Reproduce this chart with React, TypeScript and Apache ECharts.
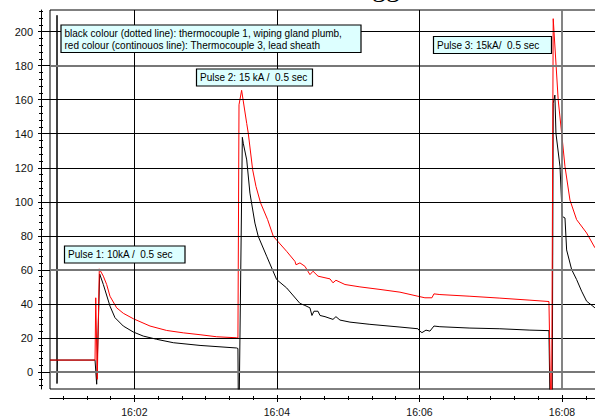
import React, { useEffect, useRef } from "react";
import * as echarts from "echarts";

// time in seconds after 16:00:00
const redTimes = [49, 86.9, 87.5, 88.8, 90.5, 93.9, 96.7, 99.5, 105.1, 110.7, 119.1, 133.2, 147.2, 161.2, 175.3, 189.3, 206.1, 207.2, 208.1, 210.3, 214.6, 215.9, 219.6, 222.4, 226.3, 232.2, 237.0, 248.2, 255.2, 256.1, 259.4, 263.6, 267.8, 270.4, 274.6, 284.7, 287.2, 289.7, 297.3, 309.9, 326.8, 343.6, 358.7, 364.6, 370.5, 372.2, 377.2, 402.5, 427.7, 453.0, 469.0, 470.4, 471.3, 472.6, 476.8, 479.7, 482.5, 486.7, 492.3, 500.7, 507.7, 516.1];
const redValues = [7, 7, 43.6, -4.3, 60.6, 56.3, 51.4, 44.5, 37.7, 34.5, 31.3, 27, 24.4, 23, 21.9, 20.7, 20.1, 20, 157, 165.5, 146, 140.3, 118.8, 109, 99.3, 89.5, 79.7, 70.9, 65, 63, 64.1, 62.1, 57.2, 59.2, 56.3, 54.7, 52.4, 53.9, 51.4, 50, 48.5, 46.9, 44.5, 43.6, 43.6, 45.9, 45.5, 44.5, 43.4, 42.2, 41.4, -15, -15, 207.6, 159.8, 140.3, 120.7, 101, 89.5, 81.7, 73, 70];

const blackTimes = [49, 54.9, 54.9, 54.9, 55.2, 86.9, 88.3, 90.8, 93.9, 99.5, 103.7, 110.7, 119.1, 127.5, 138.8, 152.8, 175.3, 206.1, 207.2, 207.5, 208.3, 210.9, 211.7, 214.6, 217.3, 221.5, 224.3, 231.4, 239.8, 248.2, 259.4, 263.6, 267.8, 269.5, 271.2, 274.6, 276.3, 280.5, 287.2, 289.7, 293.1, 301.5, 318.3, 343.6, 358.7, 360.4, 362.1, 365.5, 368.8, 372.2, 377.2, 402.5, 427.7, 453.0, 469.0, 469.8, 471.8, 472.6, 474.0, 474.9, 478.3, 480.2, 482.5, 483.9, 488.1, 492.3, 496.5, 500.7, 507.7, 516.1];
const blackValues = [7, 7, 209.6, -6.8, 7, 7, -7.2, 57.6, 51.4, 38.7, 31.9, 27, 23.5, 21.1, 19.2, 17.2, 15.6, 14.1, 13.8, -15, -15, 137.9, 134.4, 124.6, 105.1, 87.5, 79.7, 68, 54.3, 49.4, 40.3, 39.1, 37.7, 33.2, 35.7, 35.7, 33.2, 32.5, 30.9, 32.5, 30.5, 29.3, 28, 26.4, 25.4, 24, 23.1, 24.6, 24, 27, 26.6, 25.8, 25.4, 24.6, 24.3, -15, -15, 157.9, 162.7, 140.3, 120.7, 91.4, 90.5, 71.7, 60.2, 54.3, 47.5, 41.6, 37.7, 35];

const yMajorTicks = [0, 20, 40, 60, 80, 100, 120, 140, 160, 180, 200];
const yMinorTicks = [-8, -4, 4, 8, 12, 16, 24, 28, 32, 36, 44, 48, 52, 56, 64, 68, 72, 76, 84, 88, 92, 96, 104, 108, 112, 116, 124, 128, 132, 136, 144, 148, 152, 156, 164, 168, 172, 176, 184, 188, 192, 196, 204, 208, 212];
const xMajorTicks = [120, 240, 360, 480];
const xMinorTicks = [60, 80, 100, 140, 160, 180, 200, 220, 260, 280, 300, 320, 340, 380, 400, 420, 440, 460, 500, 520];
const greyGridY = [0, 60, 180];
const greyGridX = [480];

const legendLines = [
  "black colour (dotted line): thermocouple 1, wiping gland plumb,",
  "red colour (continouos line): Thermocouple 3, lead sheath",
];
const pulseLabels = ["Pulse 1: 10kA /  0.5 sec", "Pulse 2: 15 kA /  0.5 sec", "Pulse 3: 15kA/  0.5 sec"];
const titleText = "Logger";

const X_MIN = 49;
const X_MAX = 520.4;
const Y_MIN = -10;
const Y_MAX = 212.7;
const FONT = "'Liberation Sans', Arial, sans-serif";

const fmtTime = (v: number) => "16:" + String(Math.round(v / 60)).padStart(2, "0");

function xAxisDef(ticks: number[], inside: boolean, len: number, main: boolean) {
  return {
    type: "value",
    min: X_MIN,
    max: X_MAX,
    position: "bottom",
    offset: 9,
    axisLine: { show: main, onZero: false, lineStyle: { color: "#000", width: 1 } },
    axisTick: { show: true, customValues: ticks, inside, length: len, lineStyle: { color: "#000", width: 1 } },
    axisLabel: main
      ? { show: true, customValues: xMajorTicks, formatter: fmtTime, fontSize: 10.5, fontFamily: FONT, color: "#111", margin: 8 }
      : { show: false },
    splitLine: { show: false },
  };
}

function yAxisDef(ticks: number[], inside: boolean, len: number, main: boolean) {
  return {
    type: "value",
    min: Y_MIN,
    max: Y_MAX,
    position: "left",
    offset: 9,
    axisLine: { show: main, onZero: false, lineStyle: { color: "#000", width: 1 } },
    axisTick: { show: true, customValues: ticks, inside, length: len, lineStyle: { color: "#000", width: 1 } },
    axisLabel: main
      ? { show: true, customValues: yMajorTicks, fontSize: 11, fontFamily: FONT, color: "#111", margin: 8 }
      : { show: false },
    splitLine: { show: false },
  };
}

function box(x: number, y: number, w: number, h: number, lines: string[]) {
  const children: any[] = [
    {
      type: "rect",
      z: 100,
      shape: { x, y, width: w, height: h },
      style: { fill: "#ddffff", stroke: "#000", lineWidth: 1.2 },
    },
  ];
  lines.forEach((t, i) => {
    children.push({
      type: "text",
      z: 101,
      x: x + 3.5,
      y: y + 8.5 + i * 11.5,
      style: { text: t, font: `10px ${FONT}`, fill: "#000", textVerticalAlign: "middle", verticalAlign: "middle" },
    });
  });
  return { type: "group", z: 100, children };
}

export default function App() {
  const ref = useRef<HTMLDivElement>(null);
  useEffect(() => {
    if (!ref.current) return;
    const chart = echarts.init(ref.current, null, { renderer: "svg" });
    const red = redTimes.map((t, i) => [t, redValues[i]]);
    const black = blackTimes.map((t, i) => [t, blackValues[i]]);
    const gridLines: any[] = [];
    yMajorTicks.forEach((v) => {
      const grey = greyGridY.includes(v);
      gridLines.push({ yAxis: v, lineStyle: { color: grey ? "#777" : "#000", width: grey ? 1.8 : 1, type: "solid" } });
    });
    xMajorTicks.forEach((v) => {
      const grey = greyGridX.includes(v);
      gridLines.push({ xAxis: v, lineStyle: { color: grey ? "#777" : "#000", width: grey ? 1.8 : 1, type: "solid" } });
    });
    chart.setOption({
      animation: false,
      backgroundColor: "#fff",
      grid: { left: 50, top: 10, width: 560, height: 380, show: true, borderColor: "#000", borderWidth: 1, backgroundColor: "transparent" },
      xAxis: [
        xAxisDef(xMajorTicks, false, 4, true),
        xAxisDef(xMajorTicks, true, 3, false),
        xAxisDef(xMinorTicks, false, 2, false),
        xAxisDef(xMinorTicks, true, 2, false),
      ],
      yAxis: [
        yAxisDef(yMajorTicks, false, 3, true),
        yAxisDef(yMajorTicks, true, 9, false),
        yAxisDef(yMinorTicks, false, 2, false),
        yAxisDef(yMinorTicks, true, 2, false),
      ],
      series: [
        {
          type: "line",
          name: "grid",
          data: [],
          xAxisIndex: 0,
          yAxisIndex: 0,
          z: 1,
          silent: true,
          markLine: { silent: true, symbol: ["none", "none"], label: { show: false }, data: gridLines, animation: false },
        },
        {
          type: "line",
          name: "Thermocouple 1",
          data: black,
          xAxisIndex: 0,
          yAxisIndex: 0,
          showSymbol: false,
          symbol: "none",
          z: 3,
          lineStyle: { color: "#000", width: 1 },
          itemStyle: { color: "#000" },
        },
        {
          type: "line",
          name: "Thermocouple 3",
          data: red,
          xAxisIndex: 0,
          yAxisIndex: 0,
          showSymbol: false,
          symbol: "none",
          z: 4,
          lineStyle: { color: "#ff0000", width: 1 },
          itemStyle: { color: "#ff0000" },
        },
      ],
      graphic: [
        {
          type: "text",
          x: 341,
          y: -14,
          z: 100,
          style: { text: titleText, font: "28px 'Liberation Serif', serif", fill: "#000", verticalAlign: "middle", textVerticalAlign: "middle" },
        },
        box(61, 25, 300, 27.5, legendLines),
        box(64.5, 246, 120.5, 17, [pulseLabels[0]]),
        box(196.5, 69, 116, 17, [pulseLabels[1]]),
        box(433.5, 36.5, 118, 17, [pulseLabels[2]]),
      ],
    });
    return () => chart.dispose();
  }, []);
  return (
    <div style={{ position: "fixed", left: 0, top: 0, width: 595, height: 417, overflow: "hidden", background: "#fff" }}>
      <div ref={ref} style={{ width: 640, height: 417 }} />
    </div>
  );
}
